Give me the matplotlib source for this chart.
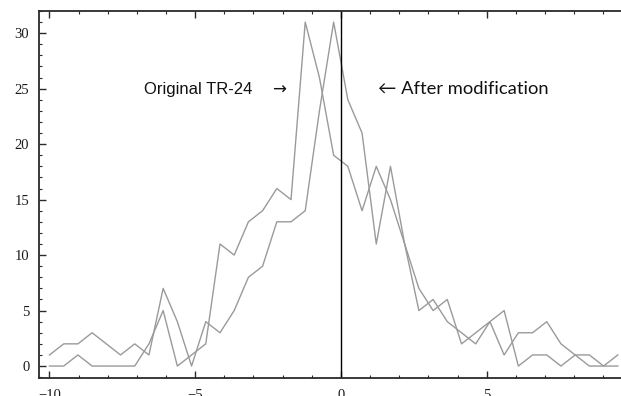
import numpy as np
import matplotlib
matplotlib.use("Agg")
import matplotlib.pyplot as plt
from matplotlib.ticker import MultipleLocator, FixedLocator

# ---- data ----
x_first, x_last, n_points = -10.0, 9.5, 41
x = np.linspace(x_first, x_last, n_points)

original = [0, 0, 1, 0, 0, 0, 0, 2, 5, 0, 1, 2, 11, 10, 13, 14, 16, 15, 31, 26,
            19, 18, 14, 18, 15, 11, 7, 5, 6, 2, 3, 4, 5, 0, 1, 1, 0, 1, 1, 0, 1]
modified = [1, 2, 2, 3, 2, 1, 2, 1, 7, 4, 0, 4, 3, 5, 8, 9, 13, 13, 14, 23,
            31, 24, 21, 11, 18, 11, 5, 6, 4, 3, 2, 4, 1, 3, 3, 4, 2, 1, 0, 0, 0]

x_major = [-10, -5, 0, 5]
x_labels = ["\u221210", "\u22125", "0", "5"]
y_major = [0, 5, 10, 15, 20, 25, 30]
y_labels = ["0", "5", "10", "15", "20", "25", "30"]

label_original = "Original TR-24"
arrow_right = "\u2192"
label_modified = "\u2190 After modification"

# ---- figure ----
W, H = 621, 396
fig = plt.figure(figsize=(W / 100, H / 100), dpi=100)
left_px, right_px, top_px, bottom_px = 39, 621, 11, 377.7
ax = fig.add_axes([left_px / W, (H - bottom_px) / H,
                   (right_px - left_px) / W, (bottom_px - top_px) / H])

line_color = "#9a9a9a"
ax.plot(x, original, color=line_color, lw=1.0)
ax.plot(x, modified, color=line_color, lw=1.0)
ax.axvline(0, color="black", lw=1.0)

ax.set_xlim(-10.36, 9.61)
ax.set_ylim(-1.05, 32.0)

ax.xaxis.set_major_locator(FixedLocator(x_major))
ax.set_xticklabels(x_labels)
ax.xaxis.set_minor_locator(MultipleLocator(1))
ax.yaxis.set_major_locator(FixedLocator(y_major))
ax.set_yticklabels(y_labels)
ax.yaxis.set_minor_locator(MultipleLocator(1))

spine_color = "#2a2a2a"
for s in ["left", "bottom", "top"]:
    ax.spines[s].set_color(spine_color)
    ax.spines[s].set_linewidth(1.3)
ax.spines["right"].set_visible(False)

ax.tick_params(which="both", direction="in", top=True, right=False,
               color=spine_color)
ax.tick_params(which="major", length=5, width=1.0)
ax.tick_params(which="minor", length=2.5, width=0.8)
ax.tick_params(axis="y", which="major", pad=7)
ax.tick_params(axis="x", which="major", pad=8)
for lab in ax.get_xticklabels() + ax.get_yticklabels():
    lab.set_fontfamily("Liberation Serif")
    lab.set_fontsize(10.5)
    lab.set_color("#1a1a1a")

ax.text(-3.05, 24.5, label_original, ha="right", va="baseline",
        fontsize=12, family=["Liberation Sans", "DejaVu Sans"], color="#111111")
ax.text(-2.13, 24.5, arrow_right, ha="center", va="baseline",
        fontsize=12, family=["DejaVu Sans"], color="#111111")
ax.text(1.27, 24.5, label_modified, ha="left", va="baseline",
        fontsize=13.2, family=["Lato", "DejaVu Sans"], color="#111111")

fig.savefig("out.png", dpi=100)
